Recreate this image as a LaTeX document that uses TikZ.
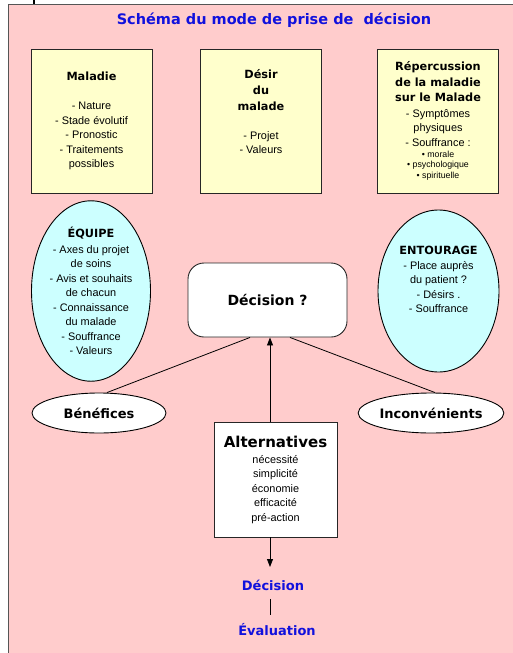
\documentclass[tikz,border=0pt]{standalone}
\usepackage{fontspec}
\setmainfont{Liberation Sans}
\newfontfamily\hfont{DejaVu Sans}
\usetikzlibrary{shapes.geometric,arrows.meta,calc}
\definecolor{pinkbg}{HTML}{FFCCCC}
\definecolor{yel}{HTML}{FFFFCC}
\definecolor{cyanf}{HTML}{CCFFFF}
\definecolor{titleblue}{HTML}{1111DD}
\definecolor{framegray}{HTML}{555555}
\newcommand\myhead[1]{{\hfont\bfseries\fontsize{11.3}{14.5}\selectfont #1}}
\newcommand\mysmall[1]{{\fontsize{8.8}{10.5}\selectfont #1}}
\tikzset{
  bodyfont/.style={font=\fontsize{10.9}{14.5}\selectfont},
  ybox/.style={draw=black!85, line width=0.9pt, fill=yel, minimum width=121pt, minimum height=144pt, align=center, inner sep=0pt, bodyfont},
  cell/.style={ellipse, draw=black, line width=0.9pt, fill=cyanf, align=center, inner sep=0pt, bodyfont},
  oval/.style={ellipse, draw=black, line width=0.9pt, fill=white, inner sep=0pt, font=\hfont\bfseries\fontsize{13}{15}\selectfont},
  wbox/.style={draw=black!85, line width=0.9pt, fill=white, align=center, inner sep=0pt, bodyfont},
  conn/.style={draw=black, line width=0.8pt},
  bluetext/.style={text=titleblue, font=\hfont\bfseries\fontsize{13}{15}\selectfont},
}
\begin{document}
\begin{tikzpicture}[x=1pt,y=-1pt]
\useasboundingbox (0,0) rectangle (513,653);
% background panel
\fill[pinkbg] (8.5,4.5) rectangle (520,660);
\draw[framegray, line width=1.6pt] (8.5,660) -- (8.5,4.5) -- (520,4.5);
\draw[black, line width=1.4pt] (34,0) -- (34,3.5);
% title
\node[text=titleblue, font=\hfont\bfseries\fontsize{14.5}{16}\selectfont] (title) at (274,20) {Schéma du mode de prise de~ décision};
% top boxes
\node[ybox] (mal) at (91.5,121) {\myhead{Maladie}\\[14.5pt]- Nature\\- Stade évolutif\\- Pronostic\\- Traitements\\possibles};
\node[ybox] (des) at (261,121) {\myhead{Désir}\\[1pt]\myhead{du}\\[2pt]\myhead{malade}\\[14pt]- Projet\\- Valeurs\\[4pt]};
\node[ybox] (rep) at (438,121) {\myhead{Répercussion}\\[1pt]\myhead{de la maladie}\\[1pt]\myhead{sur le Malade}\\[1pt]- Symptômes\\physiques\\- Souffrance :\\[-3.5pt]\mysmall{• morale}\\[-4pt]\mysmall{• psychologique}\\[-4pt]\mysmall{• spirituelle}};
% ellipses
\node[cell, minimum width=119pt, minimum height=162pt] (equ) at (91,291) {\myhead{ÉQUIPE}\\[1pt]- Axes du projet\\de soins\\- Avis et souhaits\\de chacun\\- Connaissance\\du malade\\- Souffrance\\- Valeurs};
\node[cell, minimum width=121pt, minimum height=162pt] (ent) at (438.5,291) {\myhead{ENTOURAGE}\\- Place auprès\\du patient ?\\- Désirs .\\- Souffrance\\[8pt]};
% decision
\node[draw=black!85, line width=0.9pt, fill=white, rounded corners=16pt, minimum width=159pt, minimum height=74pt, font=\hfont\bfseries\fontsize{14}{16}\selectfont] (dec) at (267.5,300) {Décision ?};
% benefits / drawbacks
\node[oval, minimum width=134pt, minimum height=40pt] (ben) at (99,413) {Bénéfices};
\node[oval, minimum width=138pt, minimum height=40pt] (inc) at (431,413) {Inconvénients};
% alternatives
\node[wbox, minimum width=123pt, minimum height=115pt] (alt) at (275.5,479.5) {{\hfont\bfseries\fontsize{15}{16}\selectfont Alternatives}\\[1.5pt]nécessité\\simplicité\\économie\\efficacité\\pré-action};
% bottom
\node[bluetext] (decb) at (273,585) {Décision};
\node[bluetext] (eval) at (277,630) {Évaluation};
\coordinate (tip) at (270,567);
% connectors
\draw[conn] ($(dec.south)+(-17.5,0)$) -- ($(ben.north)+(8,0)$);
\draw[conn] ($(dec.south)+(22.5,0)$) -- ($(inc.north)+(4,0)$);
\draw[conn, -{Triangle[length=8pt,width=6pt]}] ($(alt.north)+(-5.5,0)$) -- ($(dec.south)+(2.5,0)$);
\draw[conn, -{Triangle[length=8pt,width=6pt]}] ($(alt.south)+(-5.5,0)$) -- (tip);
\draw[conn] ($(decb.south)+(-3,5)$) -- ($(eval.north)+(-7,-5)$);
\end{tikzpicture}
\end{document}
